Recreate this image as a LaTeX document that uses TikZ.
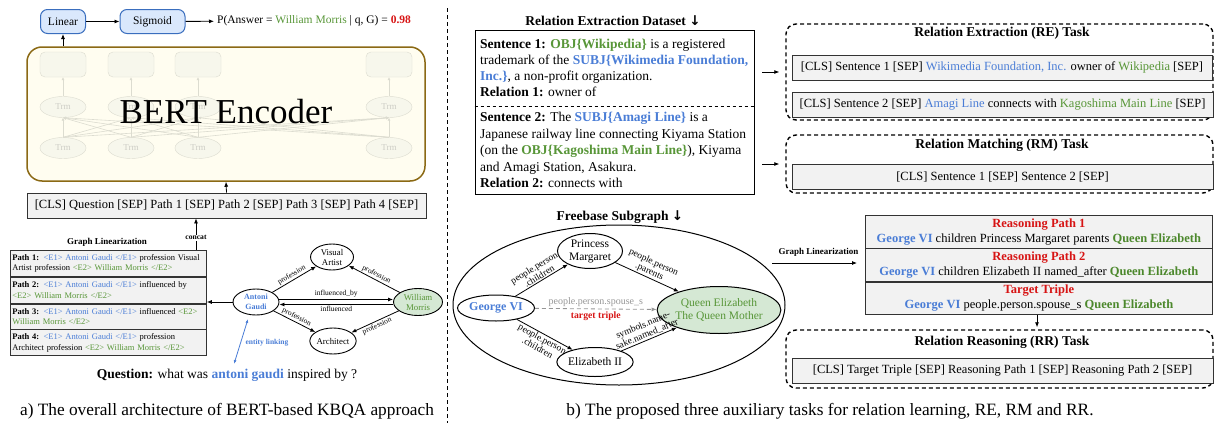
\documentclass[tikz,border=0pt]{standalone}
\usepackage{fontspec}
\setmainfont{Liberation Serif}
\newfontfamily\djv{DejaVu Sans}
\usetikzlibrary{arrows.meta,shapes.geometric,calc}
\definecolor{bstroke}{RGB}{58,110,190}
\definecolor{bfill}{RGB}{218,232,252}
\definecolor{tblue}{RGB}{74,125,214}
\definecolor{tgreen}{RGB}{88,150,56}
\definecolor{dgreen}{RGB}{76,136,44}
\definecolor{tred}{RGB}{215,20,20}
\definecolor{gfill}{RGB}{213,232,212}
\definecolor{boxfill}{RGB}{242,242,242}
\definecolor{bertstroke}{RGB}{139,105,20}
\definecolor{bertfill}{RGB}{255,253,240}
\definecolor{faint}{RGB}{220,220,208}
\definecolor{faintfill}{RGB}{247,247,236}
\definecolor{fainttext}{RGB}{205,205,198}
\definecolor{egray}{RGB}{150,150,150}
\newcommand\fsz[2]{\fontsize{#1}{#2}\selectfont}
\newcommand\darr{{\djv\bfseries ↓}}
\tikzset{
 arr/.style={-{Latex[length=5pt,width=4pt]}, line width=0.8pt},
 bluebox/.style={draw=bstroke, fill=bfill, rounded corners=7pt, line width=1pt, minimum height=24pt, inner sep=0pt, font=\fsz{11.5}{13}},
 graybox/.style={draw=black!80, fill=boxfill, line width=0.8pt, inner sep=0pt},
 tbox/.style={draw=black, line width=1.4pt, rounded corners=10pt, dash pattern=on 4pt off 3pt},
 fbox/.style={draw=faint, fill=faintfill, rounded corners=5pt, minimum width=46pt, minimum height=25pt},
 trm/.style={ellipse, draw=faint, fill=faintfill, minimum width=46pt, minimum height=21pt, inner sep=0pt, text=fainttext, font=\fsz{9}{10}},
 farr/.style={-{Latex[length=3pt,width=3pt]}, draw=faint, line width=0.6pt},
 gnode/.style={ellipse, draw=black, line width=0.9pt, inner sep=0pt, align=center, font=\fsz{8.8}{10}},
 fnode/.style={ellipse, draw=black, line width=1pt, inner sep=0pt, align=center, font=\fsz{11.5}{13}},
 elab/.style={font=\fsz{7.5}{8}, sloped, inner sep=1pt},
 flab/.style={font=\fsz{9.5}{10}, sloped, align=center, inner sep=1pt},
 pathrow/.style={graybox, anchor=north west, text width=192pt, align=left, inner xsep=2pt, inner ysep=2pt, minimum height=26pt, font=\fsz{8.5}{10.5}},
 rprow/.style={graybox, anchor=north west, minimum width=347pt, minimum height=32.5pt, align=center, font=\fsz{12.5}{15}},
 ttitle/.style={font=\bfseries\fsz{13.5}{15}},
 gtext/.style={font=\fsz{12.5}{14}},
 captxt/.style={font=\fsz{17.3}{19}},
}
\begin{document}
\begin{tikzpicture}[x=1pt,y=-1pt]
\useasboundingbox (0,0) rectangle (1215,423);
% ---------------- left part -----------------
\node[bluebox, minimum width=45pt] (lin) at (63,21.5) {Linear};
\node[bluebox, minimum width=65pt] (sig) at (152.5,21.5) {Sigmoid};
\node[anchor=west, font=\fsz{11.5}{13}, inner sep=0pt] (prob) at (217,21) {P(Answer = \textcolor{tgreen}{William Morris} | q, G) = \textcolor{tred}{\textbf{0.98}}};
\draw[arr] (lin) -- (sig);
\draw[arr, shorten >=3pt] (sig) -- (prob);

\node[draw=bertstroke, fill=bertfill, line width=1.5pt, rounded corners=15pt, minimum width=398pt, minimum height=134pt] (bert) at (226,114) {};
\foreach \i/\x in {1/63,2/131,3/198,4/389}{
  \node[fbox] (t\i) at (\x,64.5) {};
  \node[trm] (m\i) at (\x,107) {Trm};
  \node[trm] (b\i) at (\x,148) {Trm};
  \draw[farr] (m\i) -- (t\i);
}
\foreach \i in {1,2,3,4}{\foreach \j in {1,2,3,4}{\draw[farr] (b\i.north) -- (m\j.south);}}
\node[font=\fsz{35}{38}] (berttxt) at (226,112) {BERT Encoder};
\draw[arr] (bert.north -| lin.south) -- (lin.south);

\node[graybox, minimum width=399pt, minimum height=25pt, gtext] (inp) at (226.5,205.5) {[CLS] Question [SEP] Path 1 [SEP] Path 2 [SEP] Path 3 [SEP] Path 4 [SEP]};
\draw[arr] (inp.north) -- (bert.south);

\node[font=\bfseries\fsz{9}{10}] (gl) at (107,242) {Graph Linearization};
\node[pathrow] (p1) at (10,250) {\textbf{Path 1:} \textcolor{tblue}{<E1> Antoni Gaudi </E1>} profession Visual\\Artist profession \textcolor{tgreen}{<E2> William Morris </E2>}};
\node[pathrow] (p2) at (p1.south west) {\textbf{Path 2:} \textcolor{tblue}{<E1> Antoni Gaudi </E1>} influenced by\\\textcolor{tgreen}{<E2> William Morris </E2>}};
\node[pathrow, minimum height=25pt] (p3) at (p2.south west) {\textbf{Path 3:} \textcolor{tblue}{<E1> Antoni Gaudi </E1>} influenced \textcolor{tgreen}{<E2>}\\\textcolor{tgreen}{William Morris </E2>}};
\node[pathrow] (p4) at (p3.south west) {\textbf{Path 4:} \textcolor{tblue}{<E1> Antoni Gaudi </E1>} profession\\Architect profession \textcolor{tgreen}{<E2> William Morris </E2>}};
\coordinate (cc) at (196,249.5);
\draw[arr] (cc) -- (cc |- inp.south) node[pos=0.38, fill=white, inner sep=1pt, font=\bfseries\fsz{7.6}{8}] (concat) {concat};

\node[gnode, minimum width=43pt, minimum height=26pt] (va) at (332,257) {Visual\\Artist};
\node[gnode, minimum width=46pt, minimum height=26pt, text=tblue, font=\bfseries\fsz{8}{10}] (ag) at (256,302) {Antoni\\Gaudi};
\node[gnode, minimum width=49pt, minimum height=27pt, fill=gfill, text=tgreen] (wm) at (418,302) {William\\Morris};
\node[gnode, minimum width=43pt, minimum height=26pt] (ar) at (333,341) {Architect};
\draw[arr] (ag) -- (va) node[elab, midway, above] {profession};
\draw[arr] (wm) -- (va) node[elab, midway, above] {profession};
\draw[arr] (ag) -- (ar) node[elab, midway, above] {profession};
\draw[arr] (wm) -- (ar) node[elab, midway, below] {profession};
\draw[arr] ([yshift=2.5pt]ag.east) -- ([yshift=2.5pt]wm.west) node[midway, above, font=\fsz{7.5}{8}, inner sep=1.5pt] {influenced\_by};
\draw[arr] ([yshift=-2.5pt]wm.west) -- ([yshift=-2.5pt]ag.east) node[midway, below, font=\fsz{7.5}{8}, inner sep=1.5pt] {influenced};
\draw[arr] (ag.west) -- (ag.west -| p2.east);

\node[font=\fsz{13.5}{15}] (q) at (227,375) {\textbf{Question:} what was \textcolor{tblue}{\textbf{antoni gaudi}} inspired by ?};
\coordinate (el1) at (248,319);
\coordinate (el2) at (234,364);
\draw[{Latex[length=4pt,width=3pt]}-{Latex[length=4pt,width=3pt]}, draw=tblue, line width=0.8pt] (el1) -- (el2);
\node[text=tblue, font=\bfseries\fsz{7.5}{8}] (ell) at (267,343) {entity linking};

\draw[line width=1pt, dash pattern=on 4pt off 3pt] (447,8) -- (447,423);
\node[captxt] (capa) at (227,411) {a) The overall architecture of BERT-based KBQA approach};

% ---------------- right part -----------------
\node[ttitle] (dst) at (613,21) {Relation Extraction Dataset \darr};
\node[draw=black, line width=0.9pt, minimum width=279pt, minimum height=164pt] (ds) at (614.5,112) {};
\draw[line width=0.8pt, dash pattern=on 3.5pt off 2.5pt] (ds.west |- 0,106) -- (ds.east |- 0,106);
\node[anchor=base west, align=left, inner sep=0pt, font=\fsz{13.5}{16}] (s1) at (480,96) {\textbf{Sentence 1: \textcolor{tgreen}{OBJ\{Wikipedia\}}} is a registered\\trademark of the \textbf{\textcolor{tblue}{SUBJ\{Wikimedia Foundation,}}\\\textbf{\textcolor{tblue}{Inc.\}}}, a non-profit organization.\\\textbf{Relation 1:} owner of};
\node[anchor=base west, align=left, inner sep=0pt, font=\fsz{13.5}{16.5}] (s2) at (480,187.5) {\textbf{Sentence 2:} The \textbf{\textcolor{tblue}{SUBJ\{Amagi Line\}}} is a\\Japanese railway line connecting Kiyama Station\\(on the \textbf{\textcolor{tgreen}{OBJ\{Kagoshima Main Line\}}}), Kiyama\\and Amagi Station, Asakura.\\\textbf{Relation 2:} connects with};

\node[tbox, minimum width=427pt, minimum height=96pt] (re) at (999.5,72) {};
\node[ttitle] (ret) at (1002,33) {Relation Extraction (RE) Task};
\node[graybox, minimum width=420pt, minimum height=25pt, gtext] (re1) at (1002,67.5) {[CLS] Sentence 1 [SEP] \textcolor{tblue}{Wikimedia Foundation, Inc.} owner of \textcolor{tgreen}{Wikipedia} [SEP]};
\node[graybox, minimum width=421pt, minimum height=25pt, gtext] (re2) at (1002.5,104.5) {[CLS] Sentence 2 [SEP] \textcolor{tblue}{Amagi Line} connects with \textcolor{tgreen}{Kagoshima Main Line} [SEP]};

\node[tbox, minimum width=427pt, minimum height=58pt] (rm) at (999.5,164) {};
\node[ttitle] (rmt) at (1002,145) {Relation Matching (RM) Task};
\node[graybox, minimum width=421pt, minimum height=25pt, gtext] (rm1) at (1002.5,176.5) {[CLS] Sentence 1 [SEP] Sentence 2 [SEP]};

\draw[arr, shorten <=8pt, shorten >=6pt] (ds.east |- re.west) -- (re.west);
\draw[arr, shorten <=8pt, shorten >=6pt] (ds.east |- rm.west) -- (rm.west);

\node[ttitle] (fbt) at (620,217) {Freebase Subgraph \darr};
\node[ellipse, draw=black, line width=1pt, minimum width=332pt, minimum height=160pt] (fsg) at (619,305) {};
\node[fnode, minimum width=65pt, minimum height=35pt] (pm) at (590,251) {Princess\\Margaret};
\node[fnode, minimum width=77pt, minimum height=26pt, text=tblue, font=\bfseries\fsz{12}{13}] (gv) at (496,308) {George VI};
\node[fnode, minimum width=104pt, minimum height=47pt, fill=gfill, text=tgreen] (qe) at (719,310) {Queen Elizabeth\\The Queen Mother};
\node[fnode, minimum width=76pt, minimum height=29pt] (e2) at (595,362) {Elizabeth II};
\draw[arr] (gv) -- (pm) node[flab, midway, above] {people.person\\.children};
\draw[arr] (pm) -- (qe) node[flab, midway, above] {people.person\\.parents};
\draw[arr] (gv) -- (e2) node[flab, midway, below] {people.person\\.children};
\draw[arr] (e2) -- (qe) node[flab, midway, above] {symbols.name-\\sake.named\_after};
\draw[arr, draw=egray, dash pattern=on 4pt off 3pt] (gv) -- (qe) node[midway, above, text=egray, font=\fsz{10}{11}, inner sep=2pt] {people.person.spouse\_s} node[midway, below, text=tred, font=\bfseries\fsz{9.7}{10}, inner sep=2pt] {target triple};

\node[rprow] (rp1) at (865,215) {\textbf{\textcolor{tred}{Reasoning Path 1}}\\\textbf{\textcolor{tblue}{George VI}} children Princess Margaret parents \textbf{\textcolor{dgreen}{Queen Elizabeth}}};
\node[rprow] (rp2) at (rp1.south west) {\textbf{\textcolor{tred}{Reasoning Path 2}}\\\textbf{\textcolor{tblue}{George VI}} children Elizabeth II named\_after \textbf{\textcolor{dgreen}{Queen Elizabeth}}};
\node[rprow] (rp3) at (rp2.south west) {\textbf{\textcolor{tred}{Target Triple}}\\\textbf{\textcolor{tblue}{George VI}} people.person.spouse\_s \textbf{\textcolor{dgreen}{Queen Elizabeth}}};
\coordinate (gls) at (772,263);
\draw[arr, shorten >=8pt] (gls) -- (gls -| rp2.west) node[midway, above=3pt, font=\bfseries\fsz{9}{10}] (glt) {Graph Linearization};

\node[tbox, minimum width=427pt, minimum height=58pt] (rr) at (999.5,359) {};
\node[ttitle] (rrt) at (1002,342) {Relation Reasoning (RR) Task};
\node[graybox, minimum width=421pt, minimum height=25pt, gtext] (rr1) at (1002.5,370.5) {[CLS] Target Triple [SEP] Reasoning Path 1 [SEP] Reasoning Path 2 [SEP]};
\draw[arr, shorten >=2pt] (rp3.south -| 1037,0) -- (rr.north -| 1037,0);

\node[captxt] (capb) at (830,411) {b) The proposed three auxiliary tasks for relation learning, RE, RM and RR.};
\end{tikzpicture}
\end{document}
